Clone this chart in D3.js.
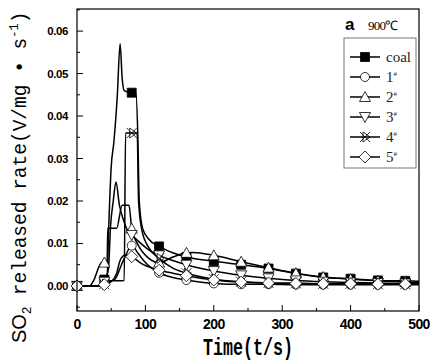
<!DOCTYPE html>
<html>
<head>
<meta charset="utf-8">
<script src="https://cdn.jsdelivr.net/npm/d3@7"></script>
<style>
  body { margin: 0; background: #fff; }
</style>
</head>
<body>
<div id="chart"></div>
<script>
// [time (s), SO2 released rate]
const coal = [[0,0],[30,0],[40,0.0015],[44,0.002],[46,0.012],[50,0.028],[54,0.034],[59,0.045],[63,0.057],[66,0.049],[69,0.046],[80,0.0455],[86,0.0455],[89,0.035],[91,0.02],[96,0.0135],[105,0.011],[120,0.0093],[140,0.0078],[160,0.0068],[200,0.0058],[240,0.005],[280,0.0041],[320,0.0029],[360,0.002],[400,0.0017],[440,0.0013],[480,0.0012],[500,0.0011]];
const s1 = [[0,0],[30,0],[40,0.0008],[55,0.0015],[65,0.005],[72,0.0075],[80,0.0095],[90,0.0075],[100,0.0055],[120,0.0031],[140,0.002],[160,0.0014],[200,0.0006],[240,0.0004],[280,0.0004],[320,0.0003],[360,0.0003],[400,0.0003],[440,0.0003],[480,0.0003],[500,0.0003]];
const s2 = [[0,0],[18,0],[25,0.0015],[32,0.0045],[36,0.0055],[40,0.0055],[44,0.0056],[45,0.0136],[58,0.0136],[66,0.019],[76,0.019],[80,0.0135],[90,0.0095],[105,0.0065],[120,0.0055],[140,0.0068],[160,0.0078],[170,0.0079],[200,0.0072],[240,0.0057],[280,0.0043],[320,0.003],[360,0.0021],[400,0.0016],[440,0.0012],[480,0.0009],[500,0.0008]];
const s3 = [[0,0],[35,0],[40,0.001],[46,0.004],[49,0.014],[53,0.02],[57,0.0245],[62,0.019],[68,0.0155],[74,0.013],[80,0.012],[90,0.0105],[105,0.0085],[120,0.0072],[140,0.006],[160,0.005],[200,0.0035],[240,0.0025],[280,0.0018],[320,0.0013],[360,0.001],[400,0.0008],[440,0.0007],[480,0.0006],[500,0.0006]];
const s4 = [[0,0],[30,0],[40,0.0004],[48,0.0012],[69,0.0013],[71,0.036],[80,0.036],[88,0.036],[90,0.02],[95,0.013],[105,0.009],[120,0.0065],[140,0.0042],[160,0.003],[200,0.0016],[240,0.001],[280,0.0007],[320,0.0006],[360,0.0005],[400,0.0005],[440,0.0004],[480,0.0004],[500,0.0004]];
const s5 = [[0,0],[30,0],[40,0.0003],[50,0.001],[58,0.003],[63,0.006],[70,0.0072],[76,0.0072],[80,0.0069],[95,0.0052],[110,0.0042],[120,0.0037],[140,0.003],[160,0.0024],[200,0.0014],[240,0.0009],[280,0.0007],[320,0.0006],[360,0.0005],[400,0.0005],[440,0.0004],[480,0.0004],[500,0.0004]];

const seriesNames = ["coal", "1", "2", "3", "4", "5"];
const seriesData = [coal, s1, s2, s3, s4, s5];
const symbols = ["square", "circle", "up", "down", "bowtie", "diamond"];

const xTicks = [0, 100, 200, 300, 400, 500];
const yTicks = [0, 0.01, 0.02, 0.03, 0.04, 0.05, 0.06];

const W = 436, H = 361;
const margin = {top: 9, right: 17, bottom: 50, left: 77};
const width = W - margin.left - margin.right,
    height = H - margin.top - margin.bottom;

const svg = d3.select("#chart").append("svg")
    .attr("width", W)
    .attr("height", H)
    .style("background", "#fff");

const g = svg.append("g")
    .attr("transform", `translate(${margin.left},${margin.top})`);

const x = d3.scaleLinear().domain([0, 500]).range([0, width]);
const y = d3.scaleLinear().domain([-0.0059, 0.0652]).range([height, 0]);

// inward ticks, minor first
const xMinor = d3.range(50, 500, 100);
const yMinor = d3.range(-0.005, 0.065, 0.01);

g.selectAll(".xminor").data(xMinor).enter().append("line")
    .attr("x1", d => x(d)).attr("x2", d => x(d))
    .attr("y1", height).attr("y2", height - 3)
    .attr("stroke", "#000");
g.selectAll(".xmajor").data(xTicks).enter().append("line")
    .attr("x1", d => x(d)).attr("x2", d => x(d))
    .attr("y1", height).attr("y2", height - 6)
    .attr("stroke", "#000");
g.selectAll(".yminor").data(yMinor).enter().append("line")
    .attr("x1", 0).attr("x2", 3)
    .attr("y1", d => y(d)).attr("y2", d => y(d))
    .attr("stroke", "#000");
g.selectAll(".ymajor").data(yTicks).enter().append("line")
    .attr("x1", 0).attr("x2", 6)
    .attr("y1", d => y(d)).attr("y2", d => y(d))
    .attr("stroke", "#000");

g.selectAll(".xlab").data(xTicks).enter().append("text")
    .attr("x", d => x(d))
    .attr("y", height + 18)
    .attr("text-anchor", "middle")
    .style("font-family", "Liberation Sans, Arial, sans-serif")
    .style("font-weight", "bold")
    .style("font-size", "14px")
    .style("letter-spacing", "-0.6px")
    .text(d => d);

g.selectAll(".ylab").data(yTicks).enter().append("text")
    .attr("x", -9)
    .attr("y", d => y(d) + 4)
    .attr("text-anchor", "end")
    .style("font-family", "Liberation Sans, Arial, sans-serif")
    .style("font-weight", "bold")
    .style("font-size", "11.5px")
    .style("letter-spacing", "-0.4px")
    .text(d3.format(".2f"));

// lines
const line = d3.line()
    .x(d => x(d[0]))
    .y(d => y(d[1]))
    .curve(d3.curveMonotoneX);

g.selectAll(".series").data(seriesData).enter().append("path")
    .attr("d", line)
    .attr("fill", "none")
    .attr("stroke", "#000")
    .attr("stroke-width", 1.5);

function symbolPath(type) {
    switch (type) {
        case "square": return "M-4.5,-4.5H4.5V4.5H-4.5Z";
        case "circle": return "M-4.5,0A4.5,4.5 0 1,0 4.5,0A4.5,4.5 0 1,0 -4.5,0Z";
        case "up": return "M0,-5.5L5.5,4.5H-5.5Z";
        case "down": return "M0,5.5L5.5,-4.5H-5.5Z";
        case "bowtie": return "M-5,-5L5,5M-5,5L5,-5M-2,-5L5,0L-2,5Z";
        case "diamond": return "M0,-6L6,0L0,6L-6,0Z";
    }
}

seriesData.forEach((data, i) => {
    const pts = data.filter(d => d[0] % 40 === 0 && d[0] <= 480);
    g.selectAll(".m" + i).data(pts).enter().append("path")
        .attr("transform", d => `translate(${x(d[0])},${y(d[1])})`)
        .attr("d", symbolPath(symbols[i]))
        .attr("fill", symbols[i] === "square" ? "#000" : (symbols[i] === "bowtie" ? "none" : "#fff"))
        .attr("stroke", "#000")
        .attr("stroke-width", 0.8);
});

// frame
g.append("rect")
    .attr("width", width).attr("height", height)
    .attr("fill", "none").attr("stroke", "#000").attr("stroke-width", 1.2);

// axis titles
svg.append("text")
    .attr("x", margin.left + width / 2)
    .attr("y", 355)
    .attr("text-anchor", "middle")
    .attr("textLength", 90)
    .attr("lengthAdjust", "spacingAndGlyphs")
    .style("font-family", "Liberation Mono, DejaVu Sans Mono, monospace")
    .style("font-weight", "bold")
    .style("font-size", "23px")
    .text("Time(t/s)");

const yt = svg.append("text")
    .attr("transform", "translate(26,343) rotate(-90)")
    .attr("x", 0).attr("y", 0)
    .style("font-size", "20px");
yt.append("tspan").style("font-family", "Liberation Sans, Arial, sans-serif").text("SO");
yt.append("tspan").attr("dy", 5).style("font-family", "Liberation Sans, Arial, sans-serif").style("font-size", "13px").text("2");
yt.append("tspan").attr("dy", -5).style("font-family", "Liberation Mono, monospace").style("font-size", "19.5px").text(" released rate(V/mg • s");
yt.append("tspan").attr("dy", -8).style("font-family", "Liberation Mono, monospace").style("font-size", "12px").text("-1");
yt.append("tspan").attr("dy", 8).style("font-family", "Liberation Mono, monospace").style("font-size", "19.5px").text(")");

// panel label
svg.append("text")
    .attr("x", 345).attr("y", 30)
    .style("font-family", "Liberation Sans, Arial, sans-serif")
    .style("font-weight", "bold")
    .style("font-size", "17px")
    .text("a");
svg.append("text")
    .attr("x", 368).attr("y", 30)
    .style("font-family", "Liberation Serif, serif")
    .style("font-size", "13px")
    .style("letter-spacing", "-0.8px")
    .text("900℃");

// legend
const legend = svg.append("g").attr("transform", "translate(344,38)");
legend.append("rect")
    .attr("width", 72).attr("height", 130)
    .attr("fill", "#fff").attr("stroke", "#777").attr("stroke-width", 1);

seriesNames.forEach((n, i) => {
    const row = legend.append("g").attr("transform", `translate(0,${19 + i * 20})`);
    row.append("line")
        .attr("x1", 6).attr("x2", 36)
        .attr("stroke", "#000").attr("stroke-width", 1.5);
    row.append("path")
        .attr("transform", "translate(21,0)")
        .attr("d", symbolPath(symbols[i]))
        .attr("fill", symbols[i] === "square" ? "#000" : (symbols[i] === "bowtie" ? "none" : "#fff"))
        .attr("stroke", "#000")
        .attr("stroke-width", 0.8);
    const t = row.append("text")
        .attr("x", 42).attr("y", 5)
        .style("font-family", "Liberation Serif, serif")
        .style("font-size", "15px")
        .style("fill", "#222");
    if (n === "coal") {
        t.text("coal");
    } else {
        t.append("tspan").text(n);
        t.append("tspan").attr("dy", -6).style("font-size", "7px").text("#");
    }
});
</script>
</body>
</html>
